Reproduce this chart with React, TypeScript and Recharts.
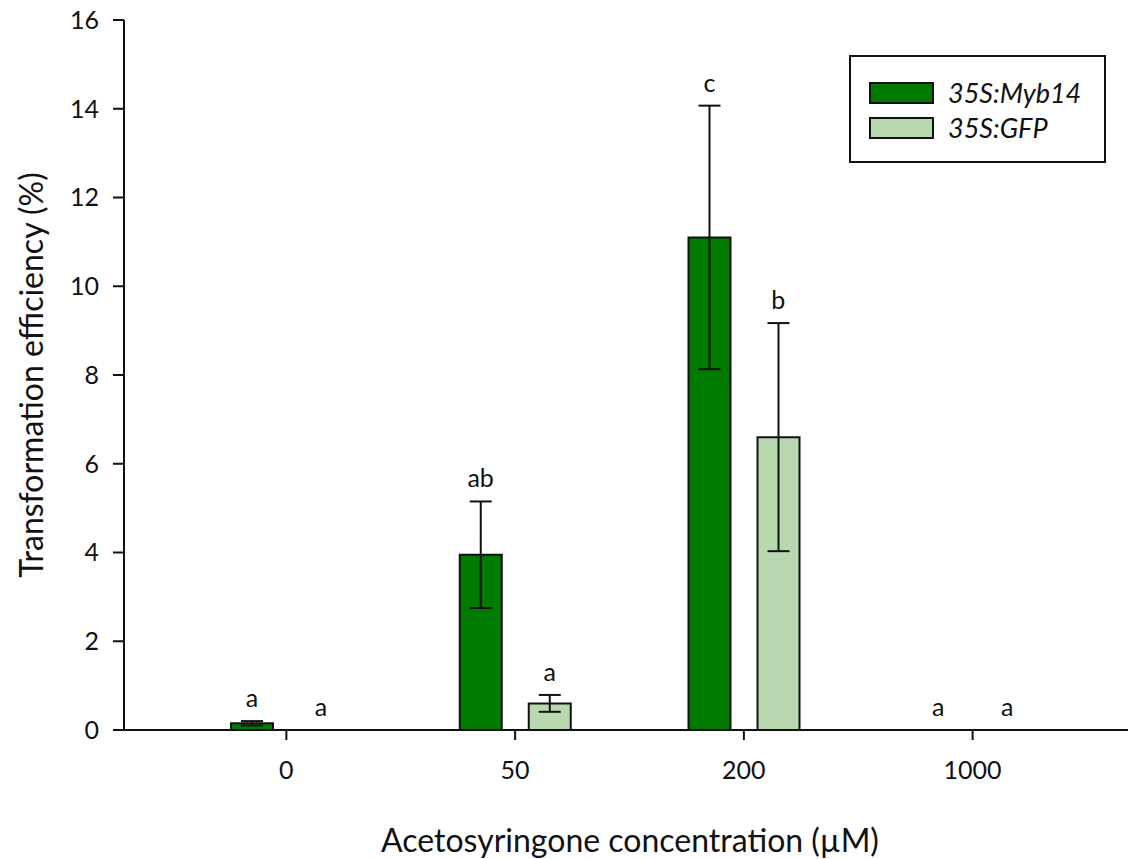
import React from 'react';
import { BarChart, Bar, XAxis, YAxis, ErrorBar } from 'recharts';

const concentrations = ['0', '50', '200', '1000'];
const myb14Mean = [0.15, 3.95, 11.1, 0];
const myb14Err = [0.05, 1.2, 2.97, 0];
const myb14Sig = ['a', 'ab', 'c', 'a'];
const gfpMean = [0, 0.6, 6.6, 0];
const gfpErr = [0, 0.19, 2.57, 0];
const gfpSig = ['a', 'a', 'b', 'a'];

const yTicks = [0, 2, 4, 6, 8, 10, 12, 14, 16];

const FONT = 'Lato, "Open Sans", sans-serif';
const DARK = '#007a00';
const LIGHT = '#b8d9b0';
const INK = '#111';

const W = 1128;
const H = 859;
const MARGIN = { top: 20, right: 0, bottom: 0, left: 0 };
const X_AXIS_H = 129;
const Y_MAX = 16;
const PLOT_H = H - MARGIN.top - X_AXIS_H;
const BASELINE = MARGIN.top + PLOT_H;
const BAR_SIZE = 42;
const BAR_GAP = 27;
const BAR_OFFSET = (BAR_SIZE + BAR_GAP) / 2;

const data = concentrations.map((c, i) => ({
  conc: c,
  myb14: myb14Mean[i],
  myb14Err: myb14Err[i] > 0 ? myb14Err[i] : undefined,
  gfp: gfpMean[i],
  gfpErr: gfpErr[i] > 0 ? gfpErr[i] : undefined,
}));

const toPx = (v: number) => BASELINE - (v * PLOT_H) / Y_MAX;

const SigLetter = ({ x, top, text }: { x: number; top: number; text: string }) => (
  <text x={x} y={toPx(top) - 14} textAnchor="middle" fontFamily={FONT} fontSize={25} fill={INK}>
    {text}
  </text>
);

// category tick label plus the significance letters above each bar pair
const ConcTick = (props: any) => {
  const { x, y, index, payload } = props;
  return (
    <g>
      <text x={x} y={y} dy={27} textAnchor="middle" fontFamily={FONT} fontSize={25} fill={INK}>
        {payload.value}
      </text>
      <SigLetter x={x - BAR_OFFSET} top={myb14Mean[index] + myb14Err[index]} text={myb14Sig[index]} />
      <SigLetter x={x + BAR_OFFSET} top={gfpMean[index] + gfpErr[index]} text={gfpSig[index]} />
    </g>
  );
};

const legendItems = [
  { name: '35S:Myb14', color: DARK, top: 25 },
  { name: '35S:GFP', color: LIGHT, top: 60 },
];

const LegendBox = () => (
  <div
    style={{
      position: 'absolute',
      left: 849,
      top: 55,
      width: 253,
      height: 104,
      border: '2px solid #111',
      background: '#fff',
      fontFamily: FONT,
      fontSize: 27,
      fontStyle: 'italic',
      color: INK,
    }}
  >
    {legendItems.map((e) => (
      <div key={e.name} style={{ position: 'absolute', left: 18, top: e.top, display: 'flex', alignItems: 'center' }}>
        <div style={{ width: 61, height: 18, background: e.color, border: '2px solid #111' }} />
        <span style={{ marginLeft: 14, lineHeight: '22px' }}>{e.name}</span>
      </div>
    ))}
  </div>
);

const YTitle = (props: any) => {
  const { viewBox } = props;
  const cy = viewBox.y + viewBox.height / 2;
  return (
    <text
      x={30}
      y={cy}
      transform={`rotate(-90, 30, ${cy})`}
      textAnchor="middle"
      dominantBaseline="central"
      fontFamily={FONT}
      fontSize={32}
      fill={INK}
    >
      Transformation efficiency (%)
    </text>
  );
};

const XTitle = () => (
  <text x={630} y={852} textAnchor="middle" fontFamily={FONT} fontSize={32} fill={INK}>
    Acetosyringone concentration (µM)
  </text>
);

export default function App() {
  return (
    <div style={{ position: 'absolute', left: 0, top: 0, width: W, height: H, background: '#fff' }}>
      <BarChart width={W} height={H} data={data} margin={MARGIN} barSize={BAR_SIZE} barGap={BAR_GAP}>
        <XAxis
          dataKey="conc"
          height={X_AXIS_H}
          padding={{ left: 48, right: 41 }}
          tickSize={10}
          tickMargin={12}
          tick={<ConcTick />}
          axisLine={{ stroke: INK, strokeWidth: 2 }}
          tickLine={{ stroke: INK, strokeWidth: 2 }}
          label={<XTitle />}
        />
        <YAxis
          width={124}
          domain={[0, Y_MAX]}
          ticks={yTicks}
          interval={0}
          tickSize={11}
          tickMargin={14}
          tick={{ fontFamily: FONT, fontSize: 25, fill: INK }}
          axisLine={{ stroke: INK, strokeWidth: 2 }}
          tickLine={{ stroke: INK, strokeWidth: 2 }}
          label={<YTitle />}
        />
        <Bar dataKey="myb14" name="35S:Myb14" fill={DARK} stroke={INK} strokeWidth={2} isAnimationActive={false}>
          <ErrorBar dataKey="myb14Err" width={11} stroke={INK} strokeWidth={2} isAnimationActive={false} />
        </Bar>
        <Bar dataKey="gfp" name="35S:GFP" fill={LIGHT} stroke={INK} strokeWidth={2} isAnimationActive={false}>
          <ErrorBar dataKey="gfpErr" width={11} stroke={INK} strokeWidth={2} isAnimationActive={false} />
        </Bar>
      </BarChart>
      <LegendBox />
    </div>
  );
}
